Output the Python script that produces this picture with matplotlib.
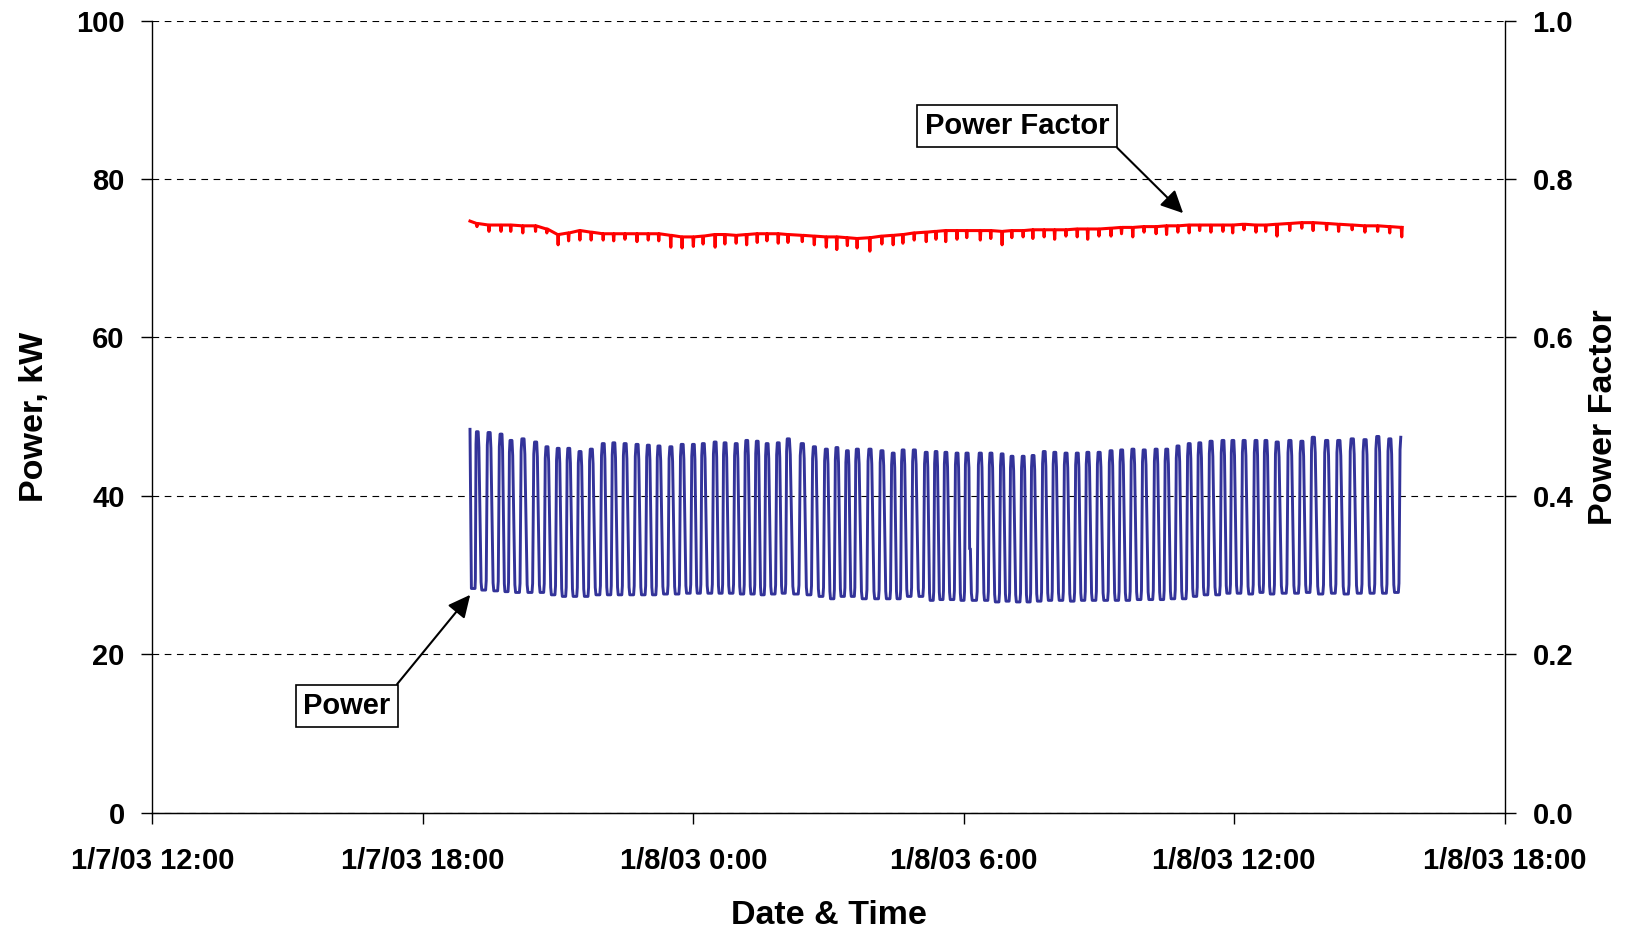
import numpy as np
import pandas as pd
import matplotlib
matplotlib.use('Agg')
import matplotlib.pyplot as plt
import matplotlib.dates as mdates
from matplotlib.ticker import FormatStrFormatter

plt.rcParams['font.family'] = ['Liberation Sans', 'DejaVu Sans']
plt.rcParams['font.weight'] = 'bold'

# ---- data ----
t0 = pd.Timestamp('2003-01-07 19:00')   # minutes below count from here
start_min = 2.7
start_kw = 48.4
start_pf = 0.747

# time of each compressor-cycle peak, minutes after 19:00
peak_min = [12, 28, 44, 57, 73, 90, 105, 120, 134, 149,
            164, 180, 194, 209, 225, 240, 254, 270, 285, 300,
            313, 329, 342, 357, 371, 385, 398, 413, 426, 445,
            461, 477, 491, 505, 518, 535, 551, 566, 579, 594,
            610, 623, 636, 651, 664, 682, 696, 711, 724, 739,
            752, 767, 781, 796, 811, 825, 840, 856, 870, 885,
            900, 916, 930, 945, 960, 974, 989, 1005, 1018, 1033,
            1049, 1062, 1077, 1094, 1110, 1125, 1143, 1159, 1177, 1194,
            1211, 1227, 1243]
peak_kw = [48.1, 48.0, 47.8, 47.0, 47.2, 46.8, 46.2, 46.0, 46.0, 45.6,
           45.9, 46.6, 46.7, 46.6, 46.5, 46.4, 46.3, 46.2, 46.5, 46.5,
           46.6, 46.8, 46.7, 46.6, 47.0, 46.9, 46.6, 46.7, 47.2, 46.6,
           46.2, 45.9, 46.1, 45.7, 45.9, 45.9, 45.7, 45.4, 45.8, 45.8,
           45.5, 45.6, 45.5, 45.4, 45.4, 45.4, 45.4, 45.3, 45.0, 45.0,
           45.1, 45.6, 45.5, 45.4, 45.4, 45.5, 45.5, 45.7, 45.8, 45.9,
           45.8, 45.9, 45.9, 46.3, 46.6, 46.7, 46.9, 47.0, 47.0, 47.0,
           47.0, 47.0, 46.8, 47.0, 46.9, 47.4, 47.0, 47.0, 47.2, 47.1,
           47.5, 47.2, 47.4]
# low value reached just before each peak
trough_kw = [28.3, 28.1, 28.0, 27.9, 27.8, 27.8, 27.8, 27.5, 27.3, 27.3,
             27.3, 27.5, 27.5, 27.5, 27.5, 27.5, 27.5, 27.6, 27.6, 27.7,
             27.7, 27.7, 27.7, 27.7, 27.6, 27.6, 27.5, 27.6, 27.7, 27.6,
             27.5, 27.3, 27.0, 27.3, 27.3, 27.0, 27.0, 27.0, 27.0, 27.3,
             27.3, 26.8, 26.9, 26.9, 26.8, 26.8, 26.8, 26.6, 26.7, 26.6,
             26.6, 26.7, 26.8, 26.8, 26.7, 26.8, 26.8, 26.8, 26.8, 26.8,
             26.9, 26.9, 26.9, 27.0, 27.0, 27.3, 27.5, 27.5, 27.7, 27.7,
             27.6, 27.8, 27.6, 27.7, 27.7, 27.8, 27.6, 27.7, 27.6, 27.7,
             27.7, 27.7, 27.8]
glitch_min = [667.8, 668.8]
glitch_kw = [33.3, 33.3]

pf_base = [0.744, 0.742, 0.742, 0.742, 0.741, 0.741, 0.737, 0.730, 0.732, 0.735,
           0.733, 0.731, 0.731, 0.731, 0.731, 0.731, 0.731, 0.729, 0.727, 0.727,
           0.728, 0.730, 0.730, 0.729, 0.730, 0.731, 0.731, 0.731, 0.730, 0.729,
           0.728, 0.727, 0.727, 0.726, 0.725, 0.726, 0.728, 0.729, 0.730, 0.732,
           0.733, 0.734, 0.735, 0.735, 0.735, 0.735, 0.735, 0.734, 0.735, 0.735,
           0.736, 0.736, 0.736, 0.736, 0.737, 0.737, 0.737, 0.738, 0.739, 0.739,
           0.740, 0.740, 0.741, 0.741, 0.742, 0.742, 0.742, 0.742, 0.742, 0.743,
           0.742, 0.742, 0.743, 0.744, 0.745, 0.745, 0.744, 0.743, 0.742, 0.741,
           0.741, 0.740, 0.739]
pf_dip = [0.004, 0.008, 0.008, 0.008, 0.009, 0.007, 0.005, 0.013, 0.010, 0.012,
          0.010, 0.008, 0.009, 0.007, 0.010, 0.008, 0.009, 0.015, 0.014, 0.012,
          0.010, 0.016, 0.012, 0.010, 0.013, 0.011, 0.009, 0.012, 0.010, 0.008,
          0.011, 0.013, 0.016, 0.010, 0.012, 0.017, 0.010, 0.012, 0.011, 0.009,
          0.012, 0.010, 0.014, 0.011, 0.009, 0.012, 0.010, 0.017, 0.009, 0.008,
          0.011, 0.009, 0.012, 0.008, 0.010, 0.013, 0.009, 0.010, 0.008, 0.012,
          0.007, 0.009, 0.011, 0.008, 0.010, 0.007, 0.009, 0.008, 0.010, 0.007,
          0.009, 0.008, 0.015, 0.009, 0.007, 0.010, 0.008, 0.009, 0.006, 0.008,
          0.007, 0.008, 0.012]

tick_times = pd.date_range('2003-01-07 12:00', periods=6, freq='6h')
tick_labels = [f"{d.month}/{d.day}/{d:%y} {d.hour}:{d:%M}" for d in tick_times]

# ---- build traces from the cycle values ----
pt, pv = [start_min], [start_kw]
prev = start_min
for i, p in enumerate(peak_min):
    T = p - prev
    lo, hi = trough_kw[i], peak_kw[i]
    if i > 0:
        h0 = peak_kw[i - 1]
        d0 = h0 - lo
        pt += [prev + 0.10 * T, prev + 0.16 * T, prev + 0.34 * T, prev + 0.40 * T]
        pv += [h0, h0 - 0.10 * d0, lo + 0.05 * d0, lo]
    else:
        pt.append(prev + 0.2 * T); pv.append(lo)
    d1 = hi - lo
    pt += [p - 0.28 * T, p - 0.23 * T, p - 0.14 * T, p - 0.08 * T]
    pv += [lo, lo + 0.06 * d1, hi - 0.08 * d1, hi]
    prev = p
pt += glitch_min; pv += glitch_kw
order = np.argsort(pt)
pt = np.array(pt)[order]; pv = np.array(pv)[order]

ft, fv = [start_min], [start_pf]
for p, b, d in zip(peak_min, pf_base, pf_dip):
    ft += [p - 0.7, p, p + 0.7]
    fv += [b, b - d, b]

p_time = t0 + pd.to_timedelta(pt, unit='min')
f_time = t0 + pd.to_timedelta(np.array(ft), unit='min')

# ---- figure ----
fig = plt.figure(figsize=(16.27, 9.34), dpi=100)
ax = fig.add_axes([0.0937, 0.1300, 0.8311, 0.8478])
ax2 = ax.twinx()

ax.plot(p_time, pv, color='#333399', lw=2.1, solid_joinstyle='round')
ax2.plot(f_time, fv, color='#ff0000', lw=2.2, solid_joinstyle='round')

ax.set_xlim(tick_times[0], tick_times[-1])
ax.set_ylim(0, 100)
ax2.set_ylim(0, 1.0)
ax.set_yticks(np.arange(0, 101, 20))
ax2.set_yticks(np.arange(0, 1.01, 0.2))
ax2.yaxis.set_major_formatter(FormatStrFormatter('%.1f'))
ax.set_xticks(tick_times)
ax.set_xticklabels(tick_labels)

ax.yaxis.grid(True, color='black', lw=0.8, linestyle=(0, (6, 5)))
for a in (ax, ax2):
    a.spines['top'].set_visible(False)
ax.spines['right'].set_visible(False)
ax2.spines['left'].set_visible(False)
for s in ('left', 'bottom'):
    ax.spines[s].set_linewidth(1.0)
ax2.spines['right'].set_linewidth(1.0)

ax.tick_params(axis='y', direction='out', length=8, width=1, pad=12, labelsize=21)
ax.tick_params(axis='x', direction='out', length=8, width=1, pad=17, labelsize=21)
ax2.tick_params(axis='y', direction='out', length=8, width=1, pad=12, labelsize=21)

ax.set_ylabel('Power, kW', fontsize=24.5, fontweight='bold')
ax.yaxis.set_label_coords(-0.076, 0.5)
ax2.set_ylabel('Power Factor', fontsize=24.5, fontweight='bold')
ax2.yaxis.set_label_coords(1.062, 0.5)
ax.set_xlabel('Date & Time', fontsize=24.5, fontweight='bold')
ax.xaxis.set_label_coords(0.5, -0.111)

box = dict(boxstyle='square,pad=0.25', fc='white', ec='black', lw=1.2)
arrow = dict(arrowstyle='-|>,head_length=0.68,head_width=0.33', mutation_scale=20,
             color='black', lw=1.5, shrinkA=0, shrinkB=0)
ax.annotate('Power', xy=(mdates.date2num(t0 + pd.Timedelta(minutes=3)), 27.5),
            xytext=(0.2133, 0.2441), textcoords='figure fraction',
            ha='center', va='center', fontsize=21, fontweight='bold', bbox=box,
            arrowprops=dict(arrow, relpos=(1.0, 1.0)))
ax.annotate('Power Factor', xy=(mdates.date2num(pd.Timestamp('2003-01-08 10:52')), 75.7),
            xytext=(0.6251, 0.8651), textcoords='figure fraction',
            ha='center', va='center', fontsize=21, fontweight='bold', bbox=box,
            arrowprops=dict(arrow, relpos=(1.0, 0.0)))

fig.savefig('out.png', dpi=100)
